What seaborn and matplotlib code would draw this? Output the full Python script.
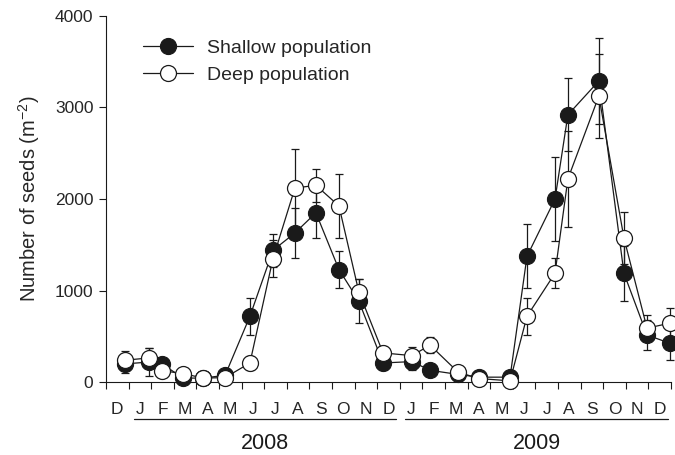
import numpy as np
import pandas as pd
import matplotlib
matplotlib.use("Agg")
import matplotlib.pyplot as plt
import seaborn as sns

# ---- data ----
month_labels = ["D", "J", "F", "M", "A", "M", "J", "J", "A", "S", "O", "N", "D",
                "J", "F", "M", "A", "M", "J", "J", "A", "S", "O", "N", "D"]
years = ["2008", "2009"]
# sampling dates in months since start of Dec 2007
sample_pos = [0.84, 1.90, 2.48, 3.41, 4.29, 5.27, 6.37, 7.39, 8.36, 9.29, 10.31, 11.19, 12.26,
              13.54, 14.34, 15.58, 16.50, 17.88, 18.63, 19.87, 20.44, 21.81, 22.92, 23.94, 24.96]
shallow = [200, 220, 200, 45, 45, 75, 720, 1440, 1630, 1850, 1230, 885, 210,
           225, 130, 85, 55, 55, 1375, 2000, 2920, 3290, 1190, 515, 425]
shallow_err = [100, 150, 60, 40, 20, 30, 200, 180, 270, 280, 200, 240, 80,
               90, 40, 30, 20, 20, 350, 460, 400, 470, 300, 160, 180]
deep = [240, 265, 125, 95, 45, 50, 210, 1350, 2120, 2150, 1925, 985, 320,
        290, 405, 110, 40, 15, 720, 1190, 2220, 3125, 1575, 590, 645]
deep_err = [100, 110, 60, 40, 20, 30, 80, 200, 430, 180, 350, 140, 70,
            90, 90, 30, 20, 20, 200, 165, 520, 460, 285, 140, 165]
yticks = [0, 1000, 2000, 3000, 4000]

sns.set_style("ticks")
plt.rcParams['font.family'] = ['Liberation Sans', 'DejaVu Sans']
plt.rcParams['mathtext.fontset'] = 'custom'
plt.rcParams['mathtext.rm'] = 'Liberation Sans'
plt.rcParams['mathtext.it'] = 'Liberation Sans:italic'
plt.rcParams['mathtext.bf'] = 'Liberation Sans:bold'

fig = plt.figure(figsize=(6.75, 4.55), dpi=100)
ax = fig.add_axes([0.157, 0.160, 0.837, 0.805])

df = pd.DataFrame({"pos": sample_pos * 2,
                   "seeds": shallow + deep,
                   "pop": ["Shallow population"] * len(shallow) + ["Deep population"] * len(deep)})

ink = "#1a1a1a"
# error bars
ax.errorbar(sample_pos, shallow, yerr=shallow_err, fmt="none", ecolor=ink,
            elinewidth=0.9, capsize=3.2, capthick=0.9, zorder=2, clip_on=False)
ax.errorbar(sample_pos, deep, yerr=deep_err, fmt="none", ecolor=ink,
            elinewidth=0.9, capsize=3.2, capthick=0.9, zorder=2, clip_on=False)

sns.lineplot(data=df[df["pop"] == "Shallow population"], x="pos", y="seeds", ax=ax,
             color=ink, lw=0.9, marker="o", markersize=11.5, markerfacecolor=ink,
             markeredgecolor=ink, markeredgewidth=0.9, label="Shallow population",
             zorder=3, clip_on=False)
sns.lineplot(data=df[df["pop"] == "Deep population"], x="pos", y="seeds", ax=ax,
             color=ink, lw=0.9, marker="o", markersize=11.5, markerfacecolor="white",
             markeredgecolor=ink, markeredgewidth=0.9, label="Deep population",
             zorder=4, clip_on=False)

ax.set_xlim(0, 25)
ax.set_ylim(0, 4000)
ax.set_yticks(yticks)
ax.set_yticklabels([str(v) for v in yticks], fontsize=12.5)
ax.set_ylabel("Number of seeds (m$^{-2}$)", fontsize=14.5, labelpad=9)
ax.set_xlabel("")

ax.set_xticks(np.arange(0, 26))
ax.set_xticklabels([])
ax.set_xticks(np.arange(len(month_labels)) + 0.5, minor=True)
ax.set_xticklabels(month_labels, minor=True, fontsize=12.5)
ax.tick_params(axis="x", which="major", length=5, width=0.8, direction="out", color=ink)
ax.tick_params(axis="x", which="minor", length=0, pad=14.5)
ax.tick_params(axis="y", length=5, width=0.8, direction="out", color=ink, pad=4)

sns.despine(ax=ax)
for s in ["left", "bottom"]:
    ax.spines[s].set_linewidth(0.8)
    ax.spines[s].set_color(ink)

# year underlines and labels
trans = ax.get_xaxis_transform()
spans = [(1.24, 12.83), (13.23, 24.87)]
for (a, b), yr in zip(spans, years):
    ax.plot([a, b], [-0.101, -0.101], transform=trans, color=ink, lw=0.9, clip_on=False)
    ax.text((a + b) / 2, -0.168, yr, transform=trans, ha="center", va="center",
            fontsize=15.5, color=ink)

leg = ax.legend(loc="upper left", bbox_to_anchor=(0.065, 0.937), frameon=False,
                fontsize=14, handlelength=2.6, handletextpad=0.7, labelspacing=0.5,
                borderaxespad=0.0, borderpad=0.0)

fig.savefig("out.png", dpi=100)
